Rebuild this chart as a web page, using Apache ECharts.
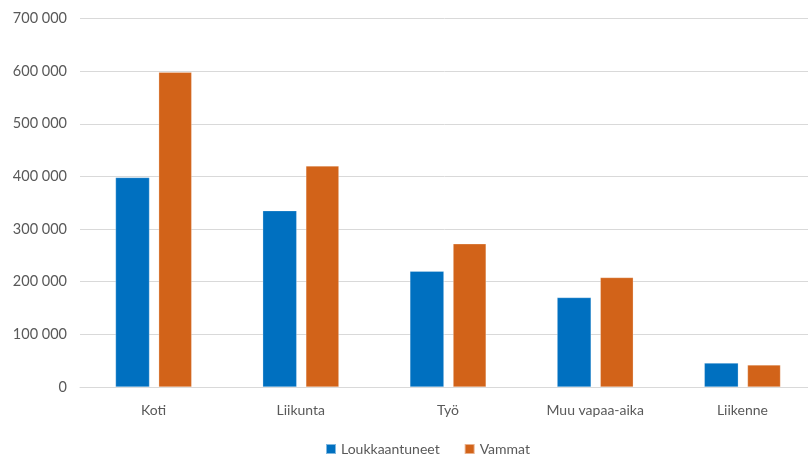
<!DOCTYPE html>
<html><head><meta charset="utf-8">
<script src="https://cdn.jsdelivr.net/npm/echarts@6/dist/echarts.min.js"></script>
<style>html,body{margin:0;padding:0;background:#fff}#c{width:808px;height:455px}</style>
</head><body><div id="c"></div>
<script>
const categories = ['Koti', 'Liikunta', 'Työ', 'Muu vapaa-aika', 'Liikenne'];
const loukkaantuneet = [398000, 335000, 220000, 170000, 45500];
const vammat = [598000, 420000, 272000, 208000, 42000];
const seriesNames = ['Loukkaantuneet', 'Vammat'];

const fmt = v => String(v).replace(/\B(?=(\d{3})+(?!\d))/g, ' ');
const font = 'Lato, "Open Sans", sans-serif';
const chart = echarts.init(document.getElementById('c'));
chart.setOption({
  animation: false,
  textStyle: {fontFamily: font},
  grid: {left: 80, width: 736, top: 18.5, height: 368.5, containLabel: false, outerBoundsMode: 'none'},
  legend: {
    top: 437, left: 320, itemWidth: 10, itemHeight: 10, itemGap: 24,
    icon: 'rect',
    textStyle: {color: '#595959', fontSize: 14, fontFamily: font},
    data: seriesNames
  },
  xAxis: {
    type: 'category', data: categories,
    axisLine: {lineStyle: {color: '#d9d9d9'}},
    axisTick: {show: false},
    axisLabel: {color: '#595959', fontSize: 14, margin: 16, fontFamily: font}
  },
  yAxis: {
    type: 'value', min: 0, max: 700000, interval: 100000,
    axisLine: {show: false}, axisTick: {show: false},
    splitLine: {lineStyle: {color: '#d9d9d9', width: 1}},
    axisLabel: {color: '#595959', fontSize: 14.5, margin: 13, formatter: fmt, fontFamily: font}
  },
  series: [
    {name: seriesNames[0], type: 'bar', data: loukkaantuneet, barWidth: 34, barGap: '27%',
     itemStyle: {color: '#0070C0', borderColor: 'rgba(255,255,255,0.5)', borderWidth: 0.5}},
    {name: seriesNames[1], type: 'bar', data: vammat, barWidth: 33,
     itemStyle: {color: '#D26319', borderColor: 'rgba(255,255,255,0.5)', borderWidth: 0.5}}
  ]
});
</script></body></html>
